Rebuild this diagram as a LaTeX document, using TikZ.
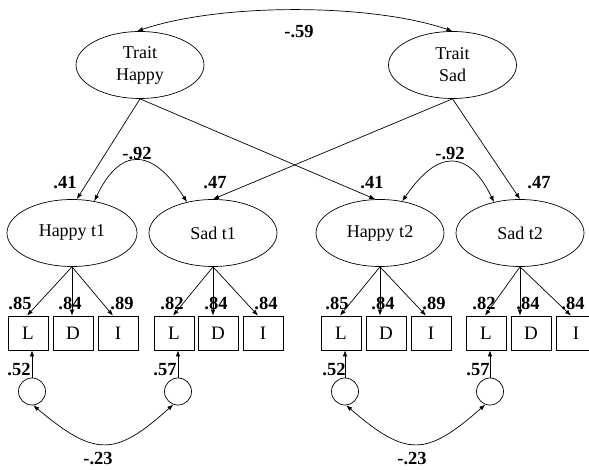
\documentclass[tikz,border=0pt]{standalone}
\usepackage{fontspec}
\setmainfont{Liberation Serif}
\usetikzlibrary{shapes.geometric,arrows.meta}
\begin{document}
\begin{tikzpicture}[x=1pt,y=-1pt,line width=0.7pt,
 lat/.style={draw,ellipse,inner sep=0pt,minimum width=128pt,minimum height=67pt,font=\fontsize{18}{22}\selectfont,align=center},
 obs/.style={draw,rectangle,minimum width=40pt,minimum height=34pt,inner sep=0pt,font=\fontsize{19}{22}\selectfont},
 err/.style={draw,circle,minimum size=27pt,inner sep=0pt},
 lab/.style={font=\fontsize{18.5}{20}\selectfont\bfseries,inner sep=0pt},
 tip/.tip={Latex[length=6pt,width=4.5pt]},
 arr/.style={-tip},
 darr/.style={tip-tip}
]
\useasboundingbox (0,0) rectangle (589,470);

% latent variables
\node[lat] (TH) at (140,65) {Trait\\Happy};
\node[lat] (TS) at (452.5,65) {Trait\\Sad};
\node[lat,minimum width=130pt] (H1) at (72,233) {Happy t1};
\node[lat] (S1) at (213,233) {Sad t1};
\node[lat] (H2) at (380,233) {Happy t2};
\node[lat] (S2) at (520,233) {Sad t2};

% indicators
\node[obs] (L1) at (28,333) {L};
\node[obs] (D1) at (73,333) {D};
\node[obs] (I1) at (118,333) {I};
\node[obs] (L2) at (174,333) {L};
\node[obs] (D2) at (218,333) {D};
\node[obs] (I2) at (263,333) {I};
\node[obs] (L3) at (341,333) {L};
\node[obs] (D3) at (386,333) {D};
\node[obs] (I3) at (431,333) {I};
\node[obs] (L4) at (486,333) {L};
\node[obs] (D4) at (531,333) {D};
\node[obs] (I4) at (576,333) {I};

% error circles
\node[err] (E1) at (32,391.5) {};
\node[err] (E2) at (178,391.5) {};
\node[err] (E3) at (345,391.5) {};
\node[err] (E4) at (490,391.5) {};

% trait correlation
\draw[darr] (TH.95) .. controls (220,3) and (370,3) .. (TS.north);

% trait to state paths
\draw[arr] (TH.south) -- (H1.82);
\draw[arr] (TH.south) -- (H2.98);
\draw[arr] (TS.south) -- (S1.north);
\draw[arr] (TS.south) -- (S2.north);

% state correlations
\draw[darr] (H1.55) .. controls (120,147) and (152,147) .. (S1.130);
\draw[darr] (H2.55) .. controls (438,149) and (468,149) .. (S2.130);

% loadings
\foreach \s/\l/\d/\i in {H1/L1/D1/I1,S1/L2/D2/I2,H2/L3/D3/I3,S2/L4/D4/I4}{
  \draw[arr] (\s.south) -- ([xshift=-1pt]\l.north);
  \draw[arr] (\s.south) -- (\s.south |- \d.north);
  \draw[arr] (\s.south) -- ([xshift=-5pt]\i.north);
}

% error paths
\draw[arr] (E1.north) -- (E1.north |- L1.south);
\draw[arr] (E2.north) -- (E2.north |- L2.south);
\draw[arr] (E3.north) -- (E3.north |- L3.south);
\draw[arr] (E4.north) -- (E4.north |- L4.south);

% error correlations
\draw[darr] (E1.-85) .. controls (95,457) and (115,457) .. (E2.-110);
\draw[darr] (E3.-85) .. controls (406,457) and (426,457) .. (E4.-110);

% labels
\node[lab] (l59) at (299,32) {-.59};
\node[lab] (l41a) at (65,183) {.41};
\node[lab] (l92a) at (137,154) {-.92};
\node[lab] (l47a) at (215,183) {.47};
\node[lab] (l92b) at (450,154) {-.92};
\node[lab] (l41b) at (372,183) {.41};
\node[lab] (l47b) at (539,183) {.47};

\node[lab] (a1) at (20,303) {.85};
\node[lab] (a2) at (70,303) {.84};
\node[lab] (a3) at (122,303) {.89};
\node[lab] (a4) at (172,303) {.82};
\node[lab] (a5) at (216,303) {.84};
\node[lab] (a6) at (266,303) {.84};
\node[lab] (a7) at (337,303) {.85};
\node[lab] (a8) at (383,303) {.84};
\node[lab] (a9) at (434,303) {.89};
\node[lab] (a10) at (484,303) {.82};
\node[lab] (a11) at (528,303) {.84};
\node[lab] (a12) at (573,303) {.84};

\node[lab] (e1) at (19,370) {.52};
\node[lab] (e2) at (165,370) {.57};
\node[lab] (e3) at (334,370) {.52};
\node[lab] (e4) at (478,370) {.57};

\node[lab] (c1) at (98,459) {-.23};
\node[lab] (c2) at (412,459) {-.23};
\end{tikzpicture}
\end{document}
